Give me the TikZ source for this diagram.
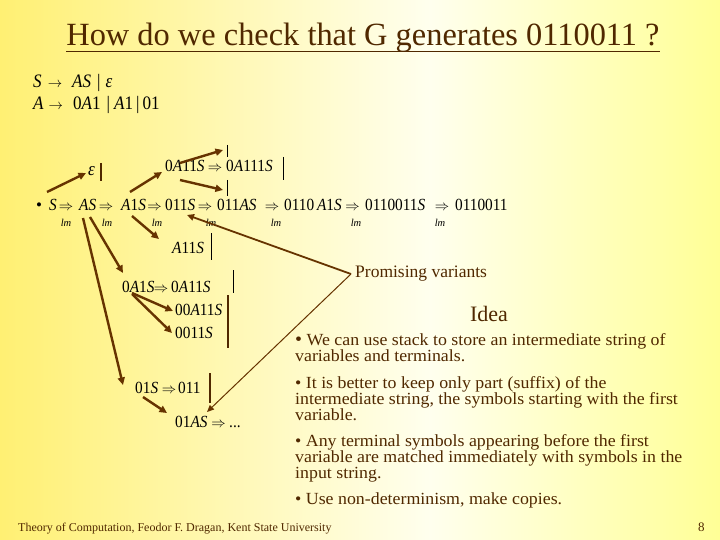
\documentclass[tikz,border=0pt]{standalone}
\usepackage{fontspec}
\usepackage{graphicx}
\setmainfont{Liberation Serif}
\newfontfamily\mfont{Liberation Serif}[FakeStretch=0.9]
\newfontfamily\bfont{Liberation Serif}[FakeStretch=1.05]
\usetikzlibrary{arrows.meta,calc}
\definecolor{txtc}{RGB}{80,40,0}
\definecolor{arrc}{RGB}{102,51,0}
\definecolor{yl}{RGB}{255,240,115}
\definecolor{yr}{RGB}{255,255,150}
\definecolor{wm}{RGB}{255,255,238}
\newcommand\mi[1]{\textit{#1}}
\newcommand\dra{$\Rightarrow$}
\newcommand\para[1]{\parbox[t]{420pt}{\raggedright\bfont\fontsize{17}{16}\selectfont\lineskiplimit=-20pt\lineskip=0pt #1}}
\begin{document}
\begin{tikzpicture}[x=1pt,y=-1pt,
  mth/.style={font=\mfont\fontsize{17}{20}\selectfont, inner sep=0pt, anchor=base west, text=black},
  gram/.style={font=\mfont\fontsize{19}{22}\selectfont, inner sep=0pt, anchor=base west, text=black},
  drr/.style={font=\fontsize{13.5}{14}\selectfont, inner sep=0pt, anchor=base, text=black},
  lmlab/.style={font=\fontsize{10.5}{12}\selectfont\itshape, inner sep=0pt, anchor=base, text=black},
  arrw/.style={draw=arrc, line width=2.4pt, -{Triangle[length=7.5pt,width=7pt]}},
  thinarrw/.style={draw=arrc, line width=1pt, -{Triangle[length=7pt,width=6pt]}},
  thickbar/.style={draw=txtc, line width=2.6pt},
  thinbar/.style={draw=black, line width=0.8pt},
  body/.style={text=txtc, inner sep=0pt, anchor=base west}]
\useasboundingbox (0,0) rectangle (720,540);
\shade[left color=yl, right color=wm] (0,0) rectangle (430,540);
\shade[left color=wm, right color=yr] (430,0) rectangle (720,540);

% title
\node[font=\fontsize{32.4}{34}\selectfont, text=txtc, inner sep=0pt, anchor=base] (ttl) at (363,46) {How do we check that G generates 0110011 ?};
\draw[draw=txtc, line width=1.8pt] ([yshift=-5.5pt]ttl.base west) -- ([yshift=-5.5pt]ttl.base east);

% grammar
\node[gram] (g1) at (33,88) {\mi{S}\hspace{6pt}{\fontsize{15}{15}\selectfont$\rightarrow$}\hspace{10pt}\mi{AS}\hspace{6pt}|\hspace{5pt}\mi{ε}};
\node[gram] (g2) at (33,110) {\mi{A}\hspace{5pt}{\fontsize{15}{15}\selectfont$\rightarrow$}\hspace{10pt}0\mi{A}1\hspace{6pt}|\hspace{4pt}\mi{A}1\hspace{3pt}|\hspace{3pt}01};

% main derivation
\node[mth, font=\fontsize{17}{20}\selectfont] (bul) at (36,211) {\textbullet};
\node[mth] (t0) at (49,211) {\mi{S}};
\node[drr] (r1) at (66,211) {\dra};
\node[mth] (t1) at (79,211) {\mi{AS}};
\node[drr] (r2) at (106,211) {\dra};
\node[mth] (t2) at (121,211) {\mi{A}1\mi{S}};
\node[drr] (r3) at (154.5,211) {\dra};
\node[mth] (t3) at (165,211) {011\mi{S}};
\node[drr] (r4) at (205,211) {\dra};
\node[mth] (t4) at (217,211) {011\mi{AS}};
\node[drr] (r5) at (272,211) {\dra};
\node[mth] (t5) at (284,211) {0110\,\mi{A}1\mi{S}};
\node[drr] (r6) at (352.5,211) {\dra};
\node[mth] (t6) at (365,211) {0110011\mi{S}};
\node[drr] (r7) at (442,211) {\dra};
\node[mth] (t7) at (455,211) {0110011};
\foreach \i/\x in {1/66,2/107,3/157,4/211,5/276,6/356,7/440}
  \node[lmlab] (l\i) at (\x,226) {lm};

% branches
\node[mth, font=\mfont\fontsize{19}{20}\selectfont] (e) at (88,176) {\mi{ε}};
\draw[thickbar] (101,163) -- (101,181);

\node[mth] (v1) at (165,172) {0\mi{A}11\mi{S}};
\node[drr] (v1a) at (215,172) {\dra};
\node[mth] (v1r) at (226,172) {0\mi{A}111\mi{S}};
\coordinate (c3) at (223,150);
\coordinate (c4) at (223,190);
\draw[thinbar] (227,145) -- (227,157);
\draw[thinbar] (227,180) -- (227,196);
\draw[thinbar] (283,157) -- (283,180);

\node[mth] (a11) at (172,253) {\mi{A}11\mi{S}};
\draw[thinbar] (211,233) -- (211,260);

\node[mth] (w1) at (122,292) {0\mi{A}1\mi{S}};
\node[drr] (w1a) at (161,292) {\dra};
\node[mth] (w1r) at (171,292) {0\mi{A}11\mi{S}};
\draw[thinbar] (233,270) -- (233,293);

\node[mth] (x1) at (175,315) {00\mi{A}11\mi{S}};
\node[mth] (x2) at (175,338) {0011\mi{S}};
\draw[thickbar] (228,295) -- (228,348);

\node[mth] (y1) at (135,393) {01\mi{S}};
\node[drr] (y1a) at (169,393) {\dra};
\node[mth] (y1r) at (178,393) {011};
\draw[thickbar] (210,373) -- (210,403);

\node[mth] (z1) at (175,427) {01\mi{AS}};
\node[drr] (z1a) at (218.5,427) {\dra};
\node[mth] (z1r) at (229,427) {...};

% arrows
\draw[arrw] ($(t0.base west)+(-2,-19)$) -- ($(e.base west)+(-2,-3)$);
\draw[arrw] ($(t2.base west)+(9,-19)$) -- ($(v1.base west)+(-3,0)$);
\draw[arrw] ($(v1.base west)+(15,-9)$) -- (c3);
\draw[arrw] ($(v1.base west)+(15,8)$) -- (c4);
\draw[arrw] ($(t2.base west)+(11,5)$) -- ($(a11.base west)+(-13,-14)$);
\draw[arrw] ($(t1.base west)+(11,6)$) -- ($(w1.base west)+(1,-19)$);
\draw[arrw] ($(t1.base west)+(4,7)$) -- ($(y1.base west)+(-12,-8)$);
\draw[arrw] ($(w1.base west)+(10,1)$) -- ($(x1.base west)+(-2,-4)$);
\draw[arrw] ($(w1.base west)+(10,2)$) -- ($(x2.base west)+(-3,-5)$);
\draw[arrw] ($(y1.base west)+(8,4)$) -- ($(z1.base west)+(-8,-14)$);

% promising variants
\node[font=\fontsize{17.5}{18}\selectfont, text=txtc, inner sep=0pt, anchor=west] (pv) at (355,274) {Promising variants};
\draw[draw=arrc, line width=1.8pt, -{Triangle[length=7pt,width=6.5pt]}] ($(pv.west)+(-4,0)$) -- ($(t3.base west)+(22,4)$);
\draw[thinarrw] ($(pv.west)+(-4,0)$) -- ($(z1.base west)+(32,-15)$);

% idea
\node[font=\fontsize{22}{24}\selectfont, text=txtc, inner sep=0pt, anchor=base] (idea) at (489,321) {Idea};
\node[body] (p1) at (295,345) {\para{{\fontsize{19}{16}\selectfont\textbullet}\ We can use stack to store an intermediate string of\\variables and terminals.}};
\node[body] (p2) at (295,388) {\para{\textbullet\ It is better to keep only part (suffix) of the\\intermediate string, the symbols starting with the first\\variable.}};
\node[body] (p3) at (295,446) {\para{\textbullet\ Any terminal symbols appearing before the first\\variable are matched immediately with symbols in the\\input string.}};
\node[body] (p4) at (295,504) {\para{\textbullet\ Use non-determinism, make copies.}};

% footer
\node[font=\fontsize{12}{13}\selectfont, text=txtc, inner sep=0pt, anchor=base west] (ft) at (18,531) {Theory of Computation, Feodor F. Dragan, Kent State University};
\node[font=\fontsize{13}{14}\selectfont, text=txtc, inner sep=0pt, anchor=base west] (pg) at (698,531) {8};
\end{tikzpicture}
\end{document}
